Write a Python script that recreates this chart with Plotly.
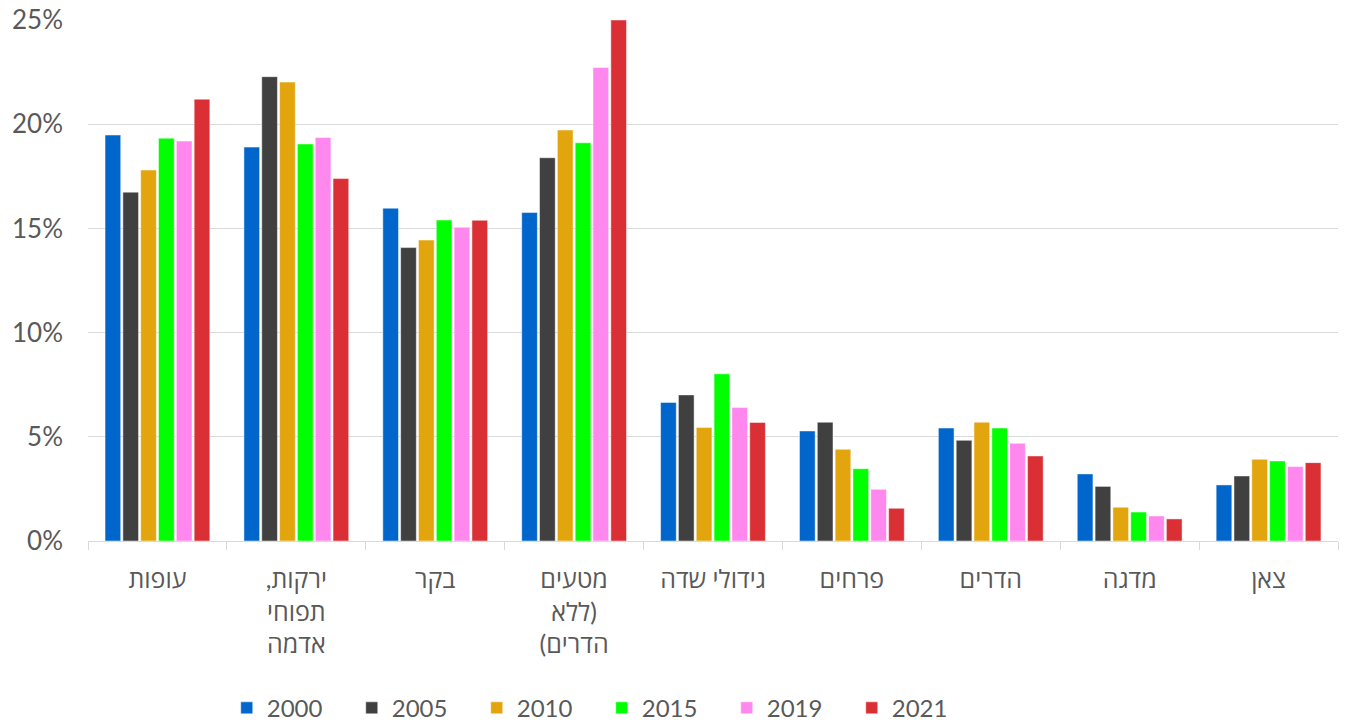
import plotly.graph_objects as go

RLM = "\u200f"


def rtl_lines(*lines):
    return "<br>".join(RLM + ln + RLM for ln in lines)


categories = [
    rtl_lines("עופות"),
    rtl_lines("ירקות,", "תפוחי", "אדמה"),
    rtl_lines("בקר"),
    rtl_lines("מטעים", "(ללא", "הדרים)"),
    rtl_lines("גידולי שדה"),
    rtl_lines("פרחים"),
    rtl_lines("הדרים"),
    rtl_lines("מדגה"),
    rtl_lines("צאן"),
]

years = ["2000", "2005", "2010", "2015", "2019", "2021"]

v2000 = [19.48, 18.90, 15.97, 15.76, 6.65, 5.28, 5.42, 3.22, 2.69]
v2005 = [16.74, 22.28, 14.08, 18.39, 7.01, 5.70, 4.83, 2.62, 3.12]
v2010 = [17.80, 22.02, 14.44, 19.72, 5.45, 4.40, 5.70, 1.62, 3.92]
v2015 = [19.33, 19.05, 15.40, 19.11, 8.02, 3.47, 5.42, 1.39, 3.84]
v2019 = [19.19, 19.36, 15.06, 22.72, 6.41, 2.48, 4.69, 1.20, 3.57]
v2021 = [21.20, 17.39, 15.39, 25.00, 5.69, 1.57, 4.08, 1.06, 3.76]

series = [v2000, v2005, v2010, v2015, v2019, v2021]
colors = ["#0066CC", "#404040", "#E3A50E", "#00FF00", "#FF88EE", "#DA2F34"]

font_family = "Lato, 'Open Sans', 'DejaVu Sans', sans-serif"
text_color = "#595959"
grid_color = "#D9D9D9"

fig = go.Figure()
for name, vals, col in zip(years, series, colors):
    fig.add_trace(go.Bar(
        name=name,
        x=categories,
        y=[v / 100 for v in vals],
        marker=dict(color=col, line=dict(color="rgba(255,255,255,0.6)", width=0.8)),
        hovertemplate="%{y:.1%}<extra>" + name + "</extra>",
    ))

fig.update_layout(
    width=1349,
    height=724,
    barmode="group",
    bargap=0.23,
    bargroupgap=0.12,
    plot_bgcolor="white",
    paper_bgcolor="white",
    margin=dict(l=88, r=11, t=20, b=183, autoexpand=False),
    font=dict(family=font_family, size=22, color=text_color),
    legend=dict(
        orientation="h",
        x=0.111,
        xanchor="left",
        y=-0.321,
        yanchor="middle",
        font=dict(size=24, color=text_color),
        entrywidth=80,
        entrywidthmode="pixels",
        traceorder="normal",
    ),
)

fig.update_yaxes(
    range=[0, 0.25],
    dtick=0.05,
    tickformat=".0%",
    showgrid=True,
    gridcolor=grid_color,
    gridwidth=1.3,
    zeroline=False,
    showline=False,
    ticks="",
    automargin=False,
    ticklabelstandoff=24,
    tickfont=dict(size=26, color=text_color),
)

fig.update_xaxes(
    showline=True,
    linecolor=grid_color,
    linewidth=1.3,
    ticks="outside",
    tickson="boundaries",
    ticklen=8,
    tickcolor=grid_color,
    tickwidth=1.3,
    showgrid=False,
    automargin=False,
    ticklabelstandoff=16,
    tickfont=dict(size=25, color=text_color),
)

fig.write_html(
    "out.html",
    config={"displayModeBar": False},
    post_script="document.body.style.margin='0px';document.body.style.overflow='hidden';",
)
